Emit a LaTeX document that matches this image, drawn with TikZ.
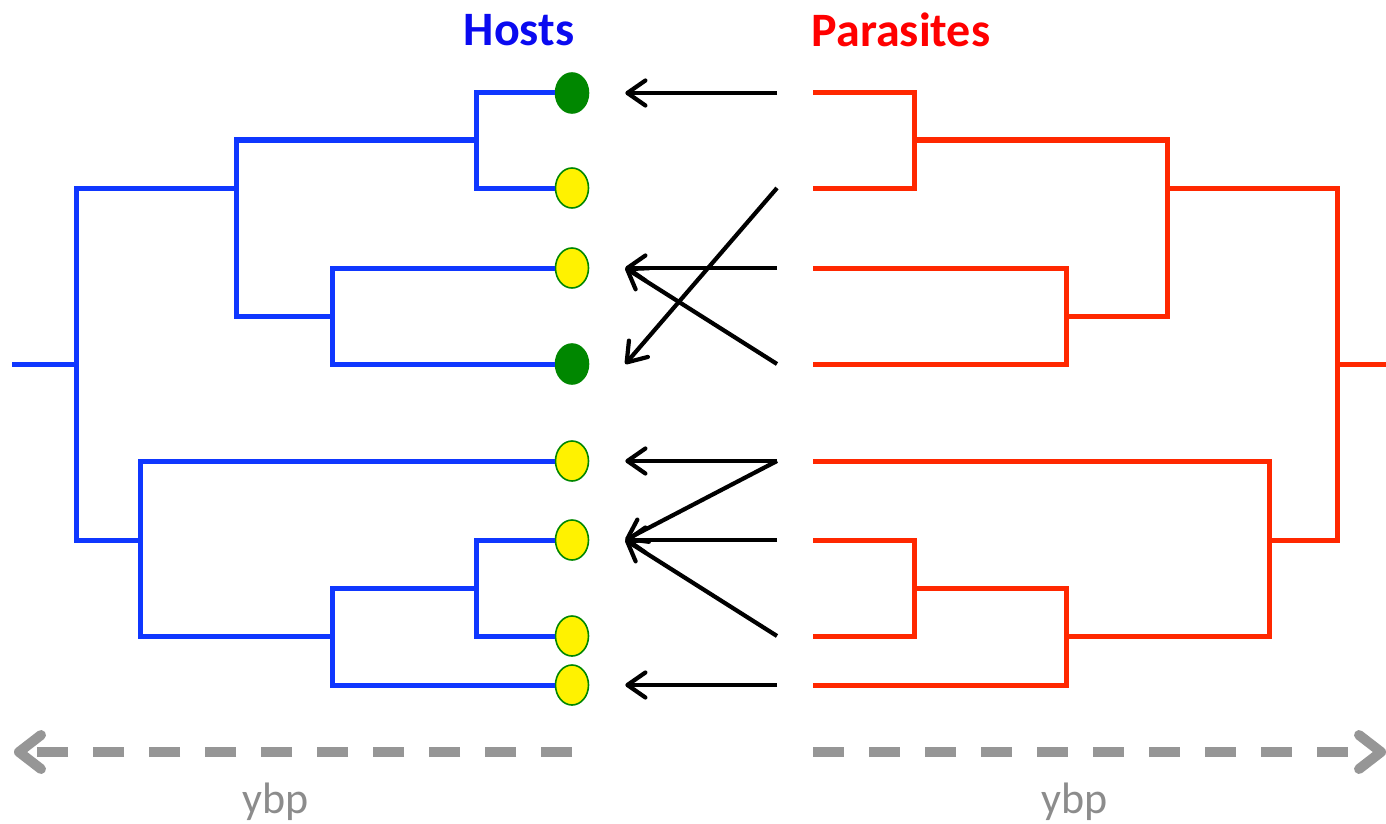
\documentclass[tikz,border=0pt]{standalone}
\usepackage{fontspec}
\setmainfont{Carlito}
\usetikzlibrary{arrows.meta,shapes.geometric}
\definecolor{hostblue}{RGB}{15,55,255}
\definecolor{hosttext}{RGB}{10,10,240}
\definecolor{parared}{RGB}{255,40,0}
\definecolor{leafgreen}{RGB}{0,135,0}
\definecolor{timegray}{RGB}{150,150,150}
\definecolor{ybpgray}{RGB}{140,140,140}
\tikzset{
	host/.style = {draw = hostblue, line width = 2.5pt},
	para/.style = {draw = parared, line width = 2.5pt},
	leaf/.style = {shape = ellipse, draw = leafgreen, line width = 0.8pt, minimum width = 16.5pt, minimum height = 20pt, inner sep = 0pt},
	assoc/.style = {draw = black, line width = 2.1pt, -{Straight Barb[length = 9pt, width = 12.5pt, round]}},
	timeline/.style = {draw = timegray, line width = 5pt, dash pattern = on 15.5pt off 12.5pt, -{Straight Barb[length = 11pt, width = 17pt, round]}},
	title/.style = {font = \bfseries\fontsize{24}{28}\selectfont},
	ybp/.style = {font = \fontsize{22}{26}\selectfont, text = ybpgray}
}
\begin{document}
\begin{tikzpicture}[x = 0.5pt, y = -0.5pt]
	\useasboundingbox (0, 0) rectangle (1386, 824);
	\node[title, text = hosttext] (hosts) at (519, 30) {Hosts};
	\node[title, text = red] (parasites) at (901, 30) {Parasites};
	\foreach \i/\y/\c in {1/93/leafgreen, 2/188/yellow, 3/268/yellow, 4/364/leafgreen, 5/461/yellow, 6/540/yellow, 7/636/yellow, 8/685/yellow}{
		\node[leaf, fill = \c] (h\i) at (572, \y) {};
		\coordinate (p\i) at (813, \y);}
	\coordinate (hA) at (476, 140);
	\coordinate (hB) at (332, 316);
	\coordinate (hC) at (236, 188);
	\coordinate (hD) at (476, 588);
	\coordinate (hE) at (332, 636);
	\coordinate (hF) at (140, 540);
	\coordinate (hR) at (76, 364);
	\coordinate (hroot) at (12, 364);
	\coordinate (pA) at (914, 140);
	\coordinate (pB) at (1066, 316);
	\coordinate (pC) at (1167, 188);
	\coordinate (pD) at (914, 588);
	\coordinate (pE) at (1066, 636);
	\coordinate (pF) at (1269, 540);
	\coordinate (pR) at (1337, 364);
	\coordinate (proot) at (1386, 364);
	\foreach \n/\a/\b in {A/1/2, B/3/4, C/A/B, D/6/7, E/D/8, F/5/E, R/C/F}{
		\draw[host] (h\a) -| (h\n) |- (h\b);
		\draw[para] (p\a) -| (p\n) |- (p\b);}
	\draw[host] (hR) -- (hroot);
	\draw[para] (pR) -- (proot);
	\foreach \p/\h in {1/1, 2/4, 3/3, 4/3, 5/5, 5/6, 6/6, 7/6, 8/8}{
		\draw[assoc] ([xshift = -18pt]p\p) -- ([xshift = 18pt]h\h.east);}
	\coordinate (hnow) at (572, 752);
	\coordinate (hpast) at (14, 752);
	\coordinate (pnow) at (813, 752);
	\coordinate (ppast) at (1386, 752);
	\draw[timeline] (hnow) -- (hpast);
	\draw[timeline] (pnow) -- (ppast);
	\node[ybp] (hybp) at (276, 802) {ybp};
	\node[ybp] (pybp) at (1075, 802) {ybp};
\end{tikzpicture}
\end{document}
